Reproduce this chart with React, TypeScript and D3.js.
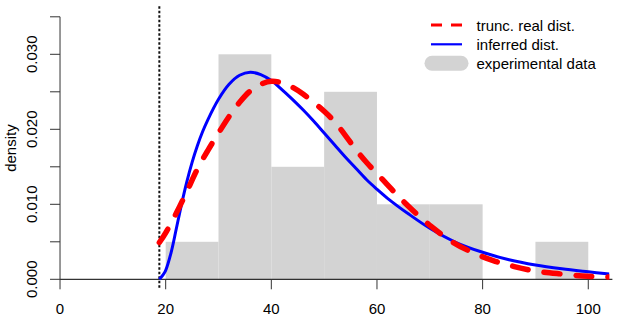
import React from 'react';
import * as d3 from 'd3';

// histogram of the experimental data (bin edges and density)
const binEdges = [20, 30, 40, 50, 60, 70, 80, 90, 100];
const binDensity = [0.005, 0.03, 0.015, 0.025, 0.01, 0.01, 0, 0.005];

// truncation point
const truncAt = 18.8;

// truncated real distribution (red dashed)
const realX = [18.8, 20, 22, 24, 26, 28, 30, 32, 34, 36, 38, 40, 42, 44, 46, 48, 50, 52, 54, 56, 58, 60, 62, 64, 66, 68, 70, 74, 78, 82, 86, 90, 95, 100, 104];
const realY = [0.0049, 0.0062, 0.0088, 0.0117, 0.0147, 0.0172, 0.0195, 0.0217, 0.0236, 0.0251, 0.026, 0.0264, 0.0262, 0.0256, 0.0247, 0.0236, 0.0224, 0.021, 0.0192, 0.0173, 0.0156, 0.0141, 0.0126, 0.0111, 0.0097, 0.0084, 0.0072, 0.0051, 0.0036, 0.0025, 0.0017, 0.0011, 0.0007, 0.0004, 0.0003];

// inferred distribution (blue)
const inferX = [18.8, 19.5, 20, 21, 22, 23, 24, 25, 26, 27, 28, 30, 32, 34, 36, 38, 40, 42, 44, 46, 48, 50, 52, 54, 56, 58, 60, 62, 66, 70, 75, 80, 85, 90, 95, 100, 104];
const inferY = [0, 0.0006, 0.0012, 0.0035, 0.0067, 0.01, 0.013, 0.0156, 0.0178, 0.0197, 0.0213, 0.024, 0.026, 0.0272, 0.0276, 0.0273, 0.0265, 0.0253, 0.024, 0.0226, 0.0211, 0.0195, 0.0179, 0.0163, 0.0148, 0.0133, 0.012, 0.0108, 0.0087, 0.0068, 0.0049, 0.0036, 0.0026, 0.0019, 0.0014, 0.001, 0.0007];

const xTicks = [0, 20, 40, 60, 80, 100];
const yTicks = [0, 0.005, 0.01, 0.015, 0.02, 0.025, 0.03, 0.035];
const yLabels = ['0.000', '', '0.010', '', '0.020', '', '0.030', ''];

const legendItems = ['trunc. real dist.', 'inferred dist.', 'experimental data'];

const W = 624;
const H = 316;
const FONT = '"Liberation Sans", Arial, Helvetica, sans-serif';

export default function App() {
  // plot region as R would set it (4% padding on xlim/ylim)
  const x = d3.scaleLinear().domain([-4, 104]).range([38.9, 609.4]);
  const y = d3.scaleLinear().domain([-0.0014, 0.0364]).range([289.8, 6.3]);

  const line = d3
    .line<[number, number]>()
    .x(d => x(d[0]))
    .y(d => y(d[1]))
    .curve(d3.curveCatmullRom.alpha(0.5));

  const realPts = realX.map((v, i) => [v, realY[i]] as [number, number]);
  const inferPts = inferX.map((v, i) => [v, inferY[i]] as [number, number]);

  const [x0, x1] = x.range();
  const [yb, yt] = y.range();

  return (
    <svg
      width={W}
      height={H}
      style={{ position: 'fixed', left: 0, top: 0, background: '#fff' }}
      fontFamily={FONT}
    >
      <defs>
        <clipPath id="plot-clip">
          <rect x={x0} y={yt} width={x1 - x0} height={yb - yt} />
        </clipPath>
      </defs>

      {/* histogram */}
      {binDensity.map((d, i) =>
        d > 0 ? (
          <rect
            key={i}
            x={x(binEdges[i])}
            y={y(d)}
            width={x(binEdges[i + 1]) - x(binEdges[i])}
            height={y(0) - y(d)}
            fill="#d3d3d3"
          />
        ) : null
      )}

      {/* baseline */}
      <line x1={x(0)} x2={x1 + 3} y1={y(0)} y2={y(0)} stroke="#000" strokeWidth={1} />

      {/* truncation point */}
      <line
        x1={x(truncAt)}
        x2={x(truncAt)}
        y1={yt}
        y2={yb}
        stroke="#111"
        strokeWidth={2}
        strokeDasharray="2.5 2"
      />

      <g clipPath="url(#plot-clip)">
        <path
          d={line(inferPts) || ''}
          fill="none"
          stroke="#0000ff"
          strokeWidth={3}
        />
        <path
          d={line(realPts) || ''}
          fill="none"
          stroke="#ff0000"
          strokeWidth={5.5}
          strokeDasharray="16 16"
          strokeLinecap="round"
        />
      </g>

      {/* y axis */}
      <g>
        <line x1={x(0)} x2={x(0)} y1={y(0)} y2={y(0.035)} stroke="#333" />
        {yTicks.map((t, i) => (
          <g key={t}>
            <line x1={x(0) - 10} x2={x(0)} y1={y(t)} y2={y(t)} stroke="#333" />
            {yLabels[i] && (
              <text
                transform={`translate(37.3,${y(t)}) rotate(-90)`}
                textAnchor="middle"
                fontSize={15}
                fill="#000"
              >
                {yLabels[i]}
              </text>
            )}
          </g>
        ))}
        <text
          transform={`translate(15.5,${(yt + yb) / 2}) rotate(-90)`}
          textAnchor="middle"
          fontSize={15}
          fill="#000"
        >
          density
        </text>
      </g>

      {/* x axis */}
      <g>
        {xTicks.map(t => (
          <g key={t}>
            <line x1={x(t)} x2={x(t)} y1={y(0)} y2={y(0) + 10} stroke="#333" />
            <text x={x(t)} y={314} textAnchor="middle" fontSize={15} fill="#000">
              {t}
            </text>
          </g>
        ))}
      </g>

      {/* legend */}
      <g>
        <line x1={431} x2={462} y1={25} y2={25} stroke="#ff0000" strokeWidth={3} strokeDasharray="11 9" />
        <line x1={431} x2={462} y1={44.3} y2={44.3} stroke="#0000ff" strokeWidth={2.2} />
        <line x1={432} x2={461} y1={63.3} y2={63.3} stroke="#d3d3d3" strokeWidth={15} strokeLinecap="round" />
        {legendItems.map((s, i) => (
          <text key={s} x={476.5} y={31 + i * 19.2} fontSize={15} fill="#000">
            {s}
          </text>
        ))}
      </g>
    </svg>
  );
}
